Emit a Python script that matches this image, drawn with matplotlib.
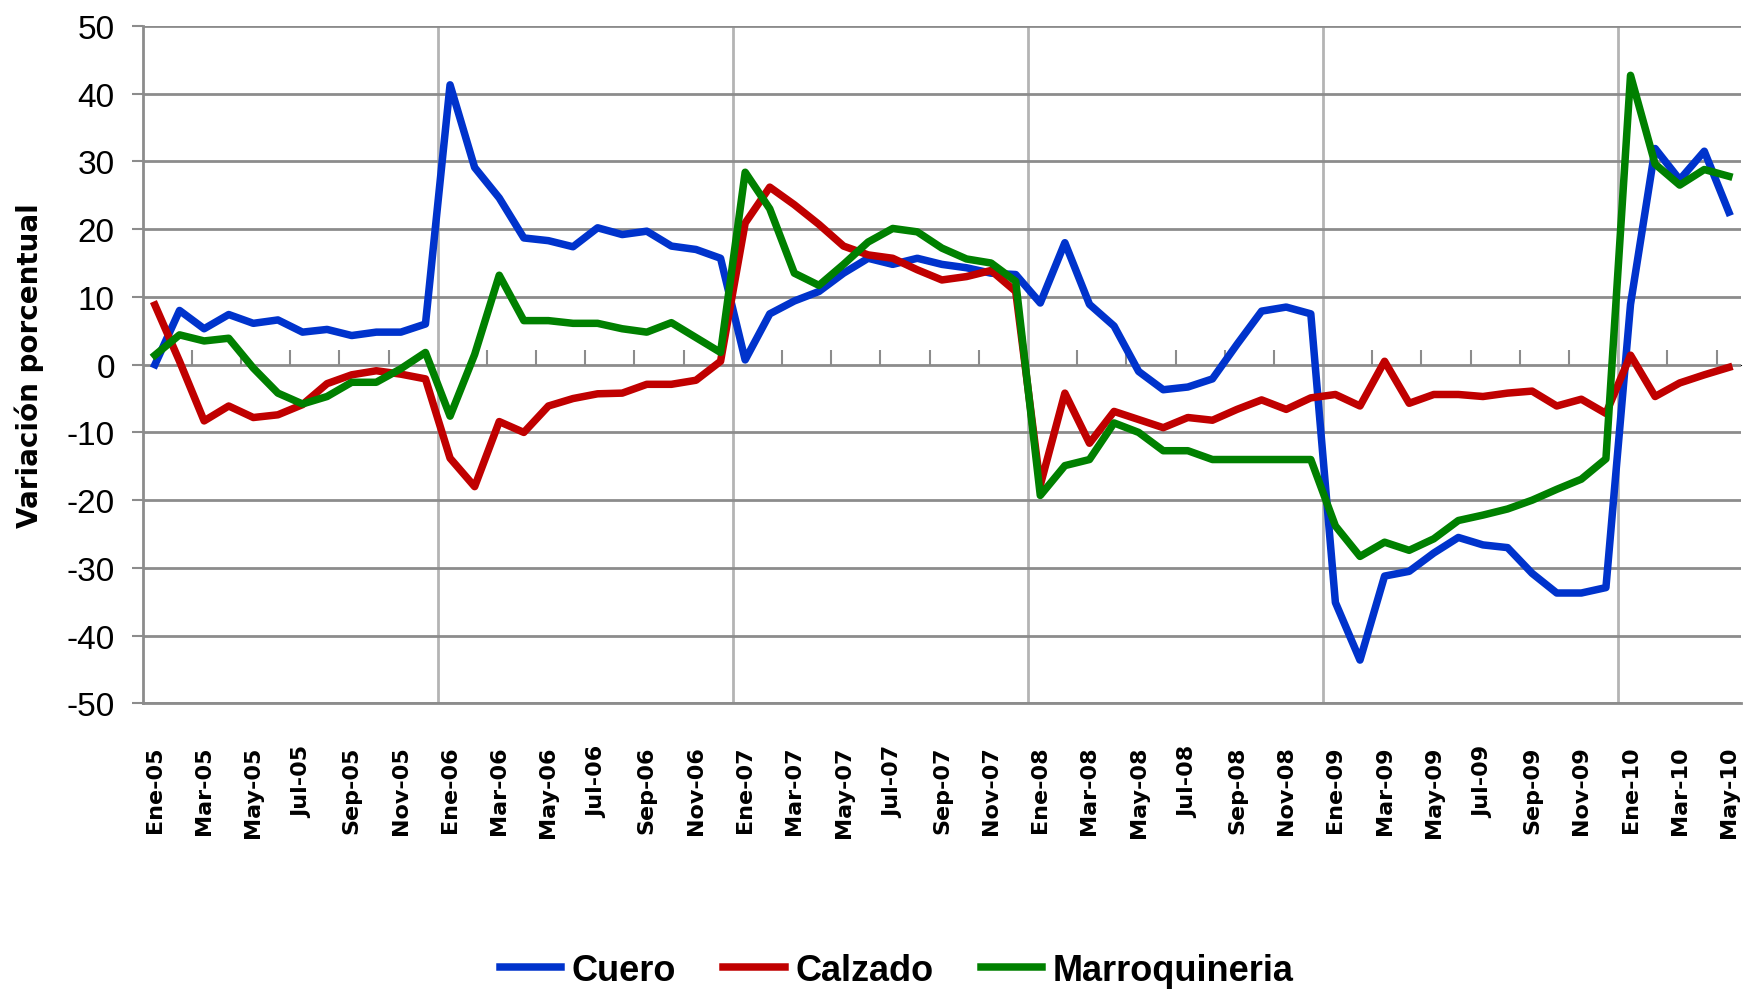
import numpy as np
import matplotlib.pyplot as plt

plt.rcParams['axes.unicode_minus'] = False

meses = ['Ene', 'Feb', 'Mar', 'Abr', 'May', 'Jun', 'Jul', 'Ago', 'Sep', 'Oct', 'Nov', 'Dic']
anios = ['05', '06', '07', '08', '09', '10']
fechas = [m + '-' + a for a in anios for m in meses][:65]

cuero = [0.0, 8.0, 5.3, 7.4, 6.1, 6.6, 4.8, 5.2, 4.3, 4.8, 4.8, 6.0,
         41.3, 29.1, 24.6, 18.7, 18.3, 17.4, 20.2, 19.2, 19.7, 17.5, 17.0, 15.7,
         0.7, 7.5, 9.4, 10.8, 13.5, 15.7, 14.8, 15.7, 14.8, 14.3, 13.5, 13.3,
         9.1, 18.0, 8.9, 5.7, -1.0, -3.7, -3.3, -2.1, 3.0, 7.9, 8.5, 7.5,
         -35.1, -43.6, -31.2, -30.5, -27.8, -25.5, -26.6, -27.0, -30.8, -33.7, -33.7, -32.9,
         8.9, 31.9, 27.3, 31.5, 22.5]
calzado = [8.8, 0.5, -8.3, -6.1, -7.8, -7.4, -5.9, -2.8, -1.5, -0.9, -1.4, -2.1,
           -13.8, -18.0, -8.4, -10.0, -6.1, -5.0, -4.3, -4.2, -2.9, -2.9, -2.3, 0.5,
           20.9, 26.2, 23.6, 20.7, 17.5, 16.2, 15.7, 14.0, 12.5, 13.0, 13.9, 10.8,
           -17.8, -4.2, -11.6, -6.9, -8.1, -9.3, -7.8, -8.2, -6.6, -5.2, -6.6, -4.9,
           -4.4, -6.1, 0.5, -5.7, -4.4, -4.4, -4.7, -4.2, -3.9, -6.1, -5.1, -7.2,
           1.4, -4.7, -2.7, -1.5, -0.4]
marroquineria = [1.4, 4.4, 3.5, 3.9, -0.5, -4.2, -5.8, -4.7, -2.6, -2.6, -0.6, 1.8,
                 -7.6, 1.5, 13.2, 6.5, 6.5, 6.1, 6.1, 5.3, 4.8, 6.2, 4.0, 1.8,
                 28.4, 23.0, 13.5, 11.7, 14.8, 18.1, 20.1, 19.6, 17.2, 15.6, 15.0, 12.3,
                 -19.3, -14.9, -14.0, -8.6, -10.0, -12.7, -12.7, -14.0, -14.0, -14.0, -14.0, -14.0,
                 -23.8, -28.3, -26.2, -27.4, -25.7, -23.0, -22.2, -21.3, -20.0, -18.4, -16.9, -13.9,
                 42.7, 29.6, 26.5, 28.8, 27.8]

x = np.arange(len(fechas))
gris = '#8c8c8c'
gris_claro = '#b4b4b4'
narrow = ['Liberation Sans Narrow', 'DejaVu Sans Condensed', 'Liberation Sans', 'DejaVu Sans']

fig = plt.figure(figsize=(17.48, 9.95), dpi=100)
ax = fig.add_axes([0.0816, 0.292, 0.9145, 0.681])

ax.plot(x, cuero, color='#0033CC', lw=5.4, label='Cuero')
ax.plot(x, calzado, color='#C00000', lw=5.4, label='Calzado')
ax.plot(x, marroquineria, color='#008000', lw=5.4, label='Marroquineria')

ax.set_xlim(-0.5, len(x) - 0.5)
ax.set_ylim(-50, 50)

# eje y
ax.set_yticks(np.arange(-50, 51, 10))
ax.yaxis.grid(True, color=gris, lw=2)
ax.tick_params(axis='y', direction='out', length=8, width=1.5, color=gris, pad=12)
for t in ax.get_yticklabels():
    t.set_family(narrow)
    t.set_fontsize(24)
ax.set_ylabel('Variación porcentual', fontsize=20, fontweight='bold')
ax.yaxis.set_label_coords(-0.062, 0.5)

# eje x: etiquetas cada 2 meses, lineas verticales por año
ax.set_xticks(x[::2])
ax.set_xticklabels(fechas[::2], rotation=90, fontsize=16, fontweight='bold')
ax.tick_params(axis='x', length=0, pad=30)
ax.set_xticks(np.arange(11.5, len(x), 12), minor=True)
ax.tick_params(axis='x', which='minor', length=0)
ax.xaxis.grid(True, which='minor', color=gris_claro, lw=2)
ax.set_axisbelow(True)

for s in ['top', 'right']:
    ax.spines[s].set_visible(False)
ax.spines['left'].set_color(gris)
ax.spines['left'].set_linewidth(2)
ax.spines['bottom'].set_color(gris)
ax.spines['bottom'].set_linewidth(2)

# linea del cero con marcas
sec = ax.secondary_xaxis(0.5)
sec.set_xticks(np.arange(-0.5, len(x), 2))
sec.set_xticklabels([])
sec.tick_params(direction='out', length=11, width=1.5, color=gris)
sec.spines['bottom'].set_color(gris)
sec.spines['bottom'].set_linewidth(2)

leg = fig.legend(loc='center', bbox_to_anchor=(0.513, 0.024), ncol=3, frameon=False,
                 prop={'family': narrow, 'size': 26, 'weight': 'bold'},
                 handlelength=1.7, handletextpad=0.3, columnspacing=1.3)

fig.savefig('out.png', dpi=100)
